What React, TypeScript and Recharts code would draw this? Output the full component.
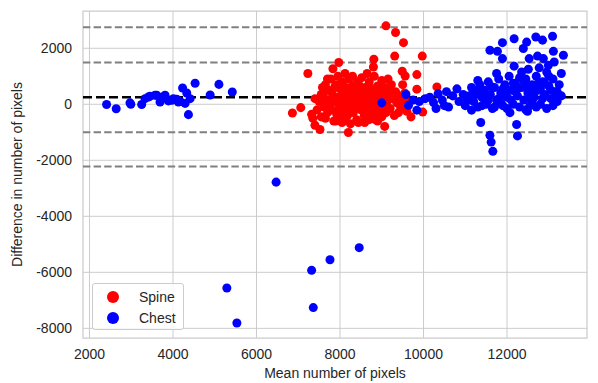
import {
  ScatterChart,
  Scatter,
  XAxis,
  YAxis,
  ZAxis,
  CartesianGrid,
  ReferenceLine,
  ReferenceArea,
} from 'recharts';

// [mean, difference] pairs
const spine: [number, number][] = [
  [9100, 2800], [9330, 2560], [9520, 2200], [9310, 1720], [9970, 1720], [8810, 1610],
  [7970, 1490], [8800, 1330], [7230, 1100], [7830, 1270], [9490, 1180], [9560, 1010],
  [9840, 1060], [9840, 540], [10320, 620], [6860, -310], [7060, -120], [7320, -360],
  [7400, -750], [7520, -900], [8200, -1010], [8440, -650], [8590, -650], [9070, -790],
  [8830, -540], [9980, -280], [8120, -570],
  [7450, -200], [7500, 100], [7550, -450], [7600, 300], [7620, -100], [7650, 700],
  [7680, 150], [7700, -300], [7720, 500], [7750, 0], [7780, 900], [7800, -200],
  [7820, 350], [7850, -600], [7870, 600], [7900, 100], [7920, -350], [7950, 1000],
  [7960, 250], [7980, -100], [8000, 550], [8020, -450], [8050, 800], [8060, 0],
  [8080, 350], [8100, -250], [8120, 1100], [8150, 600], [8160, 150], [8180, -400],
  [8200, 400], [8220, 900], [8250, -100], [8270, 250], [8300, 650], [8320, -300],
  [8350, 100], [8380, 500], [8400, -550], [8420, 800], [8450, 0], [8480, 350],
  [8500, -200], [8520, 950], [8550, 200], [8580, -400], [8600, 600], [8620, 50],
  [8650, -150], [8680, 400], [8700, 800], [8720, -300], [8750, 200], [8780, 550],
  [8800, -100], [8820, 1000], [8850, 300], [8870, -350], [8900, 650], [8920, 100],
  [8950, -200], [8980, 450], [9000, 850], [9020, -50], [9050, 250], [9080, 600],
  [9100, -300], [9130, 100], [9160, 400], [9200, -150], [9230, 700], [9260, 200],
  [9300, -400], [9330, 450], [9360, 50], [9400, 300], [9450, -100], [9500, 150],
  [9550, 400], [9600, -250], [9650, 100], [7400, 200], [7350, -500], [7580, 600],
  [7700, 900], [7900, 700], [8050, -650], [8300, 1000], [8650, 1100], [8900, -600],
  [9000, -450], [9150, 900], [7800, 50], [8000, 200], [8200, -50], [8400, 300],
  [8600, 250], [8800, 150], [9000, 300], [8100, 500], [8300, -150], [8500, 550],
  [8700, 0], [8900, 400], [7650, -500], [7900, -600], [8250, -700], [8700, -550],
  [9200, 500], [9400, -300], [9500, 700], [9700, -450], [7550, 350], [8150, 300],
  [8450, 700], [8750, -100], [9050, -100],
];

const chest: [number, number][] = [
  [2410, -10], [2640, -160], [2990, 0], [2970, 50], [3250, -10], [3330, 200],
  [3410, 260], [3450, 290], [3570, 320], [3610, 320], [3690, 80], [3810, 320],
  [3890, 120], [3970, 140], [4010, 200], [4090, 180], [4130, 80], [4230, 580],
  [4290, 30], [4330, 400], [4370, -370], [4410, 200], [4530, 750], [4890, 330],
  [5100, 710], [5420, 440], [4170, 100], [3750, 260],
  [6470, -2780], [5290, -6560], [5530, -7810], [8460, -5120], [7760, -5550],
  [7320, -5930], [7360, -7260],
  [9000, 50], [9580, 350], [9640, -40], [9840, -210], [10040, 200], [10240, 60],
  [10350, 380], [10150, 250], [10450, 150], [10550, 450], [10600, -100], [10700, 300],
  [10800, 550], [10850, 100], [10950, 350], [11000, -50], [10500, -50], [10300, -150],
  [9900, 100], [9750, 150],
  [12170, 2340], [11890, 2200], [11590, 1930], [11770, 1890], [11890, 1630],
  [12470, 2220], [12690, 2400], [12850, 2290], [13090, 2430], [12390, 1990],
  [13110, 1890], [13350, 1750], [12530, 1630], [12730, 1720], [12870, 1630],
  [13130, 1510], [12170, 1360], [12510, 1250], [12770, 1300], [12990, 1390],
  [11370, -650], [12230, -720], [12250, -1130], [11590, -1110], [11620, -1350],
  [11660, -1680], [12070, -300], [12490, -250], [11150, -210],
  [11100, 300], [11150, 600], [11200, 100], [11250, 400], [11300, -100], [11350, 700],
  [11400, 250], [11450, 500], [11500, 0], [11550, 800], [11600, 350], [11650, -150],
  [11700, 600], [11750, 150], [11800, 900], [11850, 400], [11900, -50], [11950, 700],
  [12000, 250], [12050, 1000], [12100, 500], [12150, 0], [12200, 750], [12250, 300],
  [12300, -100], [12350, 600], [12400, 150], [12450, 900], [12500, 400], [12550, -50],
  [12600, 700], [12650, 250], [12700, 1000], [12750, 500], [12800, 0], [12850, 800],
  [12900, 350], [12950, -150], [13000, 650], [13050, 200], [13100, 900], [13150, 450],
  [13200, 100], [13250, 700], [13300, 300], [11200, 500], [11400, -50], [11600, 650],
  [11800, 200], [12000, -150], [12200, 450], [12400, 850], [12600, 100], [12800, 550],
  [13000, 1000], [13200, 450], [11300, 850], [11500, 350], [11700, -100], [11900, 550],
  [12100, 150], [12300, 950], [12500, 650], [12700, -100], [12900, 750], [13100, -50],
  [11050, 150], [11450, 200], [11850, 50], [12250, 550], [12650, 450], [13050, 500],
  [12950, 1150], [12350, 1150], [11750, 1100], [13300, 1100], [11950, 350], [12150, 750],
  [12550, 300], [12750, 750], [13150, 250], [11550, 150], [11350, 450], [12450, -200],
  [12850, 200],
];

const meanDiff = 250;
const limitLines = [2750, 1490, -1000, -2220];
const xTicks = [2000, 4000, 6000, 8000, 10000, 12000];
const yTicks = [-8000, -6000, -4000, -2000, 0, 2000];
const X_DOMAIN: [number, number] = [1845, 13915];
const Y_DOMAIN: [number, number] = [-8345, 3330];

const FONT = '"Liberation Sans", Arial, sans-serif';
const TEXT = '#262626';
const GRID = '#cccccc';

const toPoints = (rows: [number, number][]) => rows.map(([x, y]) => ({ x, y }));

const legendItems = [
  { name: 'Spine', color: '#ff0000', top: 13 },
  { name: 'Chest', color: '#0000ff', top: 34 },
];

const LegendBox = () => (
  <div
    style={{
      position: 'absolute',
      left: 84,
      top: 275,
      width: 90,
      height: 45,
      border: `1px solid ${GRID}`,
      borderRadius: 3,
      background: 'rgba(255,255,255,0.8)',
      fontFamily: FONT,
      fontSize: 14,
      color: TEXT,
    }}
  >
    {legendItems.map((it) => (
      <div key={it.name}>
        <span
          style={{
            position: 'absolute',
            left: 14,
            top: it.top - 6,
            width: 12,
            height: 12,
            borderRadius: 6,
            background: it.color,
          }}
        />
        <span style={{ position: 'absolute', left: 46, top: it.top - 9, lineHeight: '18px' }}>
          {it.name}
        </span>
      </div>
    ))}
  </div>
);

export default function App() {
  return (
    <div style={{ position: 'relative', width: 590, height: 375 }}>
      <ScatterChart
        width={590}
        height={375}
        margin={{ top: 3, right: 11, bottom: 0, left: 0 }}
        style={{ fontFamily: FONT }}
      >
        <CartesianGrid stroke={GRID} strokeWidth={1} horizontalValues={yTicks} verticalValues={xTicks} />
        <ReferenceArea
          x1={X_DOMAIN[0]}
          x2={X_DOMAIN[1]}
          y1={Y_DOMAIN[0]}
          y2={Y_DOMAIN[1]}
          fill="none"
          fillOpacity={0}
          stroke={GRID}
          strokeWidth={1.25}
        />
        <XAxis
          type="number"
          dataKey="x"
          domain={X_DOMAIN}
          ticks={xTicks}
          allowDataOverflow
          height={45}
          axisLine={false}
          tickLine={false}
          tickSize={0}
          tickMargin={11}
          tick={{ fill: TEXT, fontSize: 14 }}
          label={{
            content: ({ viewBox }: any) => (
              <text
                x={viewBox.x + viewBox.width / 2}
                y={365}
                textAnchor="middle"
                dominantBaseline="central"
                fill={TEXT}
                fontSize={14}
              >
                Mean number of pixels
              </text>
            ),
          }}
        />
        <YAxis
          type="number"
          dataKey="y"
          domain={Y_DOMAIN}
          ticks={yTicks}
          allowDataOverflow
          width={75}
          axisLine={false}
          tickLine={false}
          tickSize={0}
          tickMargin={11}
          tick={{ fill: TEXT, fontSize: 14 }}
          label={{
            content: ({ viewBox }: any) => {
              const cy = viewBox.y + viewBox.height / 2;
              return (
                <text
                  x={9}
                  y={cy}
                  transform={`rotate(-90 9 ${cy})`}
                  textAnchor="middle"
                  dominantBaseline="central"
                  fill={TEXT}
                  fontSize={14}
                >
                  Difference in number of pixels
                </text>
              );
            },
          }}
        />
        <ZAxis range={[113, 113]} />
        {limitLines.map((v) => (
          <ReferenceLine key={v} y={v} stroke="#808080" strokeWidth={2} strokeDasharray="7.4 3.2" />
        ))}
        <ReferenceLine y={meanDiff} stroke="#000000" strokeWidth={2.5} strokeDasharray="9 4" />
        <Scatter name="Spine" data={toPoints(spine)} fill="#ff0000" isAnimationActive={false} />
        <Scatter name="Chest" data={toPoints(chest)} fill="#0000ff" isAnimationActive={false} />
      </ScatterChart>
      <LegendBox />
    </div>
  );
}
